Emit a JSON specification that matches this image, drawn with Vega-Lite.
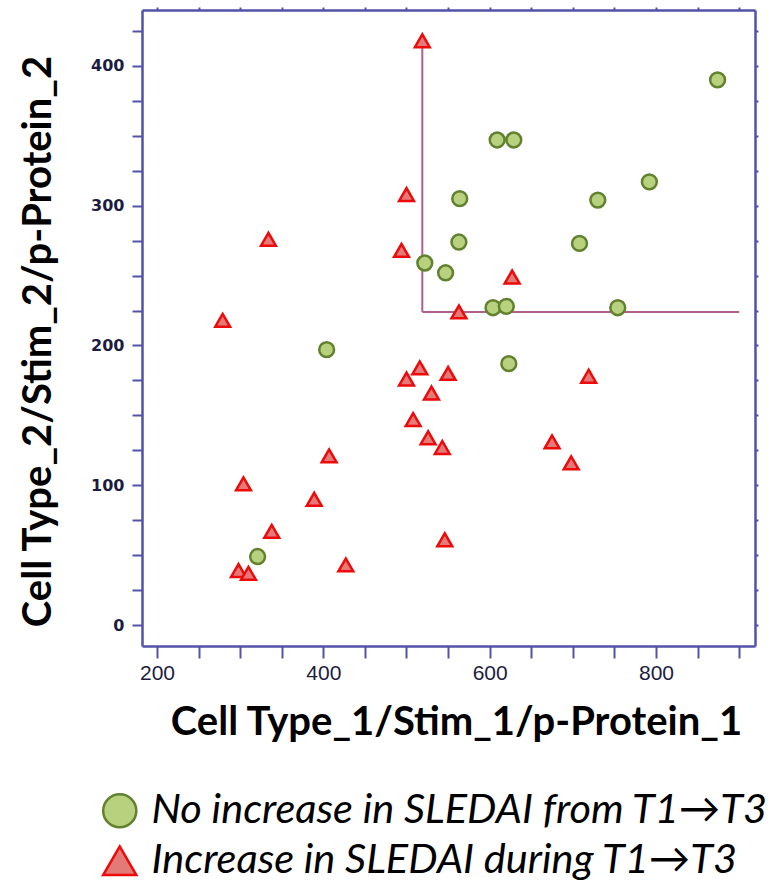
{
  "$schema": "https://vega.github.io/schema/vega-lite/v6.json",
  "width": 613,
  "height": 636,
  "autosize": {"type": "none"},
  "padding": {"left": 142, "top": 10, "right": 25, "bottom": 242},
  "background": "white",
  "config": {"view": {"stroke": null}, "axis": {"grid": false}},
  "datasets": {
    "lines": [
      {"x": 519, "y": 224, "x2": 519, "y2": 418},
      {"x": 519, "y": 224, "x2": 900, "y2": 224}
    ],
    "points": [
      {"x": 874, "y": 390, "group": "No increase in SLEDAI from T1→T3"},
      {"x": 609, "y": 347, "group": "No increase in SLEDAI from T1→T3"},
      {"x": 629, "y": 347, "group": "No increase in SLEDAI from T1→T3"},
      {"x": 564, "y": 305, "group": "No increase in SLEDAI from T1→T3"},
      {"x": 792, "y": 317, "group": "No increase in SLEDAI from T1→T3"},
      {"x": 730, "y": 304, "group": "No increase in SLEDAI from T1→T3"},
      {"x": 563, "y": 274, "group": "No increase in SLEDAI from T1→T3"},
      {"x": 708, "y": 273, "group": "No increase in SLEDAI from T1→T3"},
      {"x": 522, "y": 259, "group": "No increase in SLEDAI from T1→T3"},
      {"x": 547, "y": 252, "group": "No increase in SLEDAI from T1→T3"},
      {"x": 604, "y": 227, "group": "No increase in SLEDAI from T1→T3"},
      {"x": 620, "y": 228, "group": "No increase in SLEDAI from T1→T3"},
      {"x": 754, "y": 227, "group": "No increase in SLEDAI from T1→T3"},
      {"x": 404, "y": 197, "group": "No increase in SLEDAI from T1→T3"},
      {"x": 623, "y": 187, "group": "No increase in SLEDAI from T1→T3"},
      {"x": 321, "y": 49, "group": "No increase in SLEDAI from T1→T3"},
      {"x": 519, "y": 418, "group": "Increase in SLEDAI during T1→T3"},
      {"x": 500, "y": 308, "group": "Increase in SLEDAI during T1→T3"},
      {"x": 334, "y": 276, "group": "Increase in SLEDAI during T1→T3"},
      {"x": 494, "y": 268, "group": "Increase in SLEDAI during T1→T3"},
      {"x": 279, "y": 218, "group": "Increase in SLEDAI during T1→T3"},
      {"x": 627, "y": 249, "group": "Increase in SLEDAI during T1→T3"},
      {"x": 563, "y": 224, "group": "Increase in SLEDAI during T1→T3"},
      {"x": 516, "y": 184, "group": "Increase in SLEDAI during T1→T3"},
      {"x": 500, "y": 176, "group": "Increase in SLEDAI during T1→T3"},
      {"x": 550, "y": 180, "group": "Increase in SLEDAI during T1→T3"},
      {"x": 530, "y": 166, "group": "Increase in SLEDAI during T1→T3"},
      {"x": 508, "y": 147, "group": "Increase in SLEDAI during T1→T3"},
      {"x": 526, "y": 134, "group": "Increase in SLEDAI during T1→T3"},
      {"x": 543, "y": 127, "group": "Increase in SLEDAI during T1→T3"},
      {"x": 407, "y": 121, "group": "Increase in SLEDAI during T1→T3"},
      {"x": 304, "y": 101, "group": "Increase in SLEDAI during T1→T3"},
      {"x": 389, "y": 90, "group": "Increase in SLEDAI during T1→T3"},
      {"x": 338, "y": 67, "group": "Increase in SLEDAI during T1→T3"},
      {"x": 298, "y": 39, "group": "Increase in SLEDAI during T1→T3"},
      {"x": 310, "y": 37, "group": "Increase in SLEDAI during T1→T3"},
      {"x": 427, "y": 43, "group": "Increase in SLEDAI during T1→T3"},
      {"x": 546, "y": 61, "group": "Increase in SLEDAI during T1→T3"},
      {"x": 719, "y": 178, "group": "Increase in SLEDAI during T1→T3"},
      {"x": 675, "y": 131, "group": "Increase in SLEDAI during T1→T3"},
      {"x": 698, "y": 116, "group": "Increase in SLEDAI during T1→T3"}
    ]
  },
  "layer": [
    {
      "data": {"name": "lines"},
      "mark": {"type": "rule", "color": "#b0608a", "strokeWidth": 2},
      "encoding": {
        "x": {
          "field": "x", "type": "quantitative",
          "scale": {"domain": [182, 919], "nice": false, "zero": false},
          "axis": {
            "orient": "bottom",
            "values": [200, 250, 300, 350, 400, 450, 500, 550, 600, 650, 700, 750, 800, 850, 900],
            "labelExpr": "datum.value % 200 === 0 ? datum.label : ''",
            "domainColor": "#5252a8", "domainWidth": 2.5,
            "tickColor": "#5252a8", "tickWidth": 2, "tickSize": 12,
            "labelFont": "Liberation Sans", "labelFontSize": 21, "labelColor": "#1c1c40",
            "labelPadding": 4,
            "title": "Cell Type_1/Stim_1/p-Protein_1",
            "titleFont": "Lato", "titleFontSize": 40, "titleFontWeight": "bold", "titleColor": "#000000",
            "titleX": 314, "titleY": 88, "titleBaseline": "alphabetic", "titleAlign": "center"
          }
        },
        "y": {
          "field": "y", "type": "quantitative",
          "scale": {"domain": [-15, 440], "nice": false, "zero": false},
          "axis": {
            "orient": "left",
            "values": [0, 25, 50, 75, 100, 125, 150, 175, 200, 225, 250, 275, 300, 325, 350, 375, 400, 425],
            "labelExpr": "datum.value % 100 === 0 ? datum.label : ''",
            "domainColor": "#5252a8", "domainWidth": 2.5,
            "tickColor": "#5252a8", "tickWidth": 2, "tickSize": 10,
            "labelFont": "DejaVu Sans", "labelFontWeight": "bold", "labelFontSize": 16, "labelColor": "#1c1c40",
            "labelPadding": 8,
            "title": "Cell Type_2/Stim_2/p-Protein_2",
            "titleFont": "Lato", "titleFontSize": 40, "titleFontWeight": "bold", "titleColor": "#000000",
            "titleX": -92, "titleY": 331, "titleAngle": -90, "titleBaseline": "alphabetic", "titleAlign": "center"
          }
        },
        "x2": {"field": "x2"},
        "y2": {"field": "y2"}
      }
    },
    {
      "data": {"name": "points"},
      "mark": {"type": "point", "filled": true, "size": 220, "strokeWidth": 2.5, "opacity": 1},
      "encoding": {
        "x": {
          "field": "x", "type": "quantitative",
          "axis": {
            "orient": "top",
            "values": [200, 250, 300, 350, 400, 450, 500, 550, 600, 650, 700, 750, 800, 850, 900],
            "labels": false, "title": null,
            "domainColor": "#5252a8", "domainWidth": 2.5,
            "tickColor": "#5252a8", "tickWidth": 2, "tickSize": 3
          }
        },
        "y": {
          "field": "y", "type": "quantitative",
          "axis": {
            "orient": "right",
            "values": [0, 25, 50, 75, 100, 125, 150, 175, 200, 225, 250, 275, 300, 325, 350, 375, 400, 425],
            "labels": false, "title": null,
            "domainColor": "#5252a8", "domainWidth": 2.5,
            "tickColor": "#5252a8", "tickWidth": 2, "tickSize": 3
          }
        },
        "shape": {
          "field": "group", "type": "nominal",
          "scale": {"domain": ["No increase in SLEDAI from T1→T3", "Increase in SLEDAI during T1→T3"], "range": ["circle", "triangle-up"]},
          "legend": {
            "orient": "none", "legendX": -43, "legendY": 780, "title": null, "direction": "vertical",
            "labelFont": "Lato", "labelFontSize": 41.5, "labelFontStyle": "italic", "labelColor": "#000000",
            "labelLimit": 800, "symbolSize": 1100, "symbolStrokeWidth": 2.5, "rowPadding": 6, "labelOffset": 11
          }
        },
        "fill": {
          "field": "group", "type": "nominal",
          "scale": {"domain": ["No increase in SLEDAI from T1→T3", "Increase in SLEDAI during T1→T3"], "range": ["#b7d17f", "#e37a78"]}
        },
        "stroke": {
          "field": "group", "type": "nominal",
          "scale": {"domain": ["No increase in SLEDAI from T1→T3", "Increase in SLEDAI during T1→T3"], "range": ["#62812f", "#ec0a0a"]}
        }
      }
    }
  ]
}
